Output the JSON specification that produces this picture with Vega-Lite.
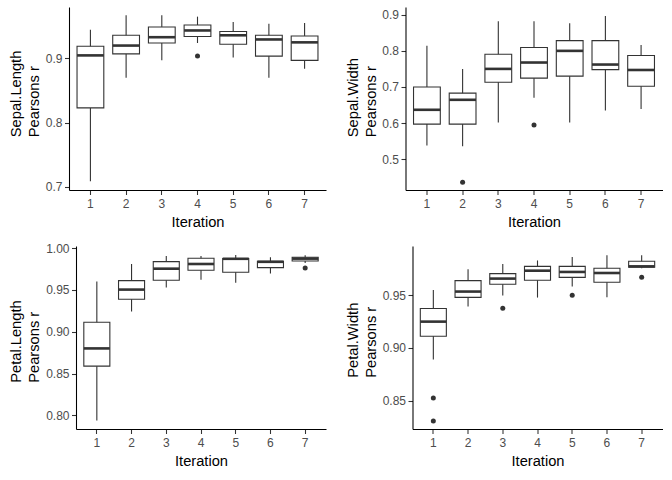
{
  "$schema": "https://vega.github.io/schema/vega-lite/v6.json",
  "padding": {"left": 8, "top": 7, "right": 5, "bottom": 5},
  "background": "white",
  "datasets": {
    "box": [
      {"panel": "SL", "it": 1, "lo": 0.709, "q1": 0.823, "med": 0.9047, "q3": 0.919, "hi": 0.9446},
      {"panel": "SL", "it": 2, "lo": 0.870, "q1": 0.907, "med": 0.920, "q3": 0.936, "hi": 0.967},
      {"panel": "SL", "it": 3, "lo": 0.897, "q1": 0.924, "med": 0.933, "q3": 0.949, "hi": 0.967},
      {"panel": "SL", "it": 4, "lo": 0.924, "q1": 0.934, "med": 0.9435, "q3": 0.952, "hi": 0.965},
      {"panel": "SL", "it": 5, "lo": 0.9016, "q1": 0.922, "med": 0.936, "q3": 0.942, "hi": 0.9565},
      {"panel": "SL", "it": 6, "lo": 0.870, "q1": 0.9036, "med": 0.9295, "q3": 0.936, "hi": 0.954},
      {"panel": "SL", "it": 7, "lo": 0.884, "q1": 0.897, "med": 0.925, "q3": 0.935, "hi": 0.955},
      {"panel": "SW", "it": 1, "lo": 0.5386, "q1": 0.5975, "med": 0.637, "q3": 0.700, "hi": 0.8136},
      {"panel": "SW", "it": 2, "lo": 0.536, "q1": 0.5975, "med": 0.6646, "q3": 0.683, "hi": 0.750},
      {"panel": "SW", "it": 3, "lo": 0.602, "q1": 0.7133, "med": 0.750, "q3": 0.7906, "hi": 0.8816},
      {"panel": "SW", "it": 4, "lo": 0.670, "q1": 0.7244, "med": 0.7676, "q3": 0.809, "hi": 0.8816},
      {"panel": "SW", "it": 5, "lo": 0.602, "q1": 0.730, "med": 0.7998, "q3": 0.828, "hi": 0.876},
      {"panel": "SW", "it": 6, "lo": 0.635, "q1": 0.748, "med": 0.762, "q3": 0.828, "hi": 0.896},
      {"panel": "SW", "it": 7, "lo": 0.639, "q1": 0.702, "med": 0.747, "q3": 0.787, "hi": 0.816},
      {"panel": "PL", "it": 1, "lo": 0.794, "q1": 0.8588, "med": 0.880, "q3": 0.9113, "hi": 0.960},
      {"panel": "PL", "it": 2, "lo": 0.924, "q1": 0.9388, "med": 0.9503, "q3": 0.961, "hi": 0.981},
      {"panel": "PL", "it": 3, "lo": 0.9527, "q1": 0.9614, "med": 0.9753, "q3": 0.9837, "hi": 0.9905},
      {"panel": "PL", "it": 4, "lo": 0.9622, "q1": 0.9734, "med": 0.9809, "q3": 0.9877, "hi": 0.9905},
      {"panel": "PL", "it": 5, "lo": 0.9586, "q1": 0.971, "med": 0.9871, "q3": 0.9873, "hi": 0.9917},
      {"panel": "PL", "it": 6, "lo": 0.9694, "q1": 0.9765, "med": 0.9835, "q3": 0.9841, "hi": 0.9889},
      {"panel": "PL", "it": 7, "lo": 0.982, "q1": 0.9845, "med": 0.9873, "q3": 0.9889, "hi": 0.9913},
      {"panel": "PW", "it": 1, "lo": 0.889, "q1": 0.9112, "med": 0.925, "q3": 0.9374, "hi": 0.955},
      {"panel": "PW", "it": 2, "lo": 0.9393, "q1": 0.948, "med": 0.9535, "q3": 0.9639, "hi": 0.9746},
      {"panel": "PW", "it": 3, "lo": 0.9497, "q1": 0.9604, "med": 0.9658, "q3": 0.9705, "hi": 0.9797},
      {"panel": "PW", "it": 4, "lo": 0.9478, "q1": 0.9642, "med": 0.9733, "q3": 0.9774, "hi": 0.983},
      {"panel": "PW", "it": 5, "lo": 0.9582, "q1": 0.967, "med": 0.9721, "q3": 0.9774, "hi": 0.9863},
      {"panel": "PW", "it": 6, "lo": 0.9481, "q1": 0.9623, "med": 0.9711, "q3": 0.9756, "hi": 0.9879},
      {"panel": "PW", "it": 7, "lo": 0.9755, "q1": 0.9765, "med": 0.9774, "q3": 0.9822, "hi": 0.9879}
    ],
    "out": [
      {"panel": "SL", "it": 4, "v": 0.9036},
      {"panel": "SW", "it": 2, "v": 0.4366},
      {"panel": "SW", "it": 4, "v": 0.5947},
      {"panel": "PL", "it": 7, "v": 0.9761},
      {"panel": "PW", "it": 1, "v": 0.8525},
      {"panel": "PW", "it": 1, "v": 0.8308},
      {"panel": "PW", "it": 3, "v": 0.9377},
      {"panel": "PW", "it": 5, "v": 0.95},
      {"panel": "PW", "it": 7, "v": 0.967}
    ]
  },
  "spacing": 13,
  "vconcat": [
    {
      "spacing": 18.5,
      "hconcat": [
        {
          "width": 257, "height": 183,
          "encoding": {
            "x": {"field": "it", "type": "ordinal", "title": "Iteration", "scale": {"paddingInner": 0.25, "paddingOuter": 0.225}}
          },
          "layer": [
            {"data": {"name": "box"}, "transform": [{"filter": "datum.panel == 'SL'"}], "mark": {"type": "rule", "color": "#333333", "strokeWidth": 1.1},
             "encoding": {"y": {"field": "lo", "type": "quantitative", "scale": {"domain": [0.6953, 0.980], "nice": false, "zero": false}, "axis": {"values": [0.7, 0.8, 0.9], "format": ".1f", "title": ["Sepal.Length", "Pearsons r"], "titleAlign": "left", "titleY": 129.7, "minExtent": 26.7, "maxExtent": 26.7}}, "y2": {"field": "hi"}}},
            {"data": {"name": "box"}, "transform": [{"filter": "datum.panel == 'SL'"}], "mark": {"type": "bar", "fill": "white", "stroke": "#333333", "strokeWidth": 1.1},
             "encoding": {"y": {"field": "q1", "type": "quantitative"}, "y2": {"field": "q3"}}},
            {"data": {"name": "box"}, "transform": [{"filter": "datum.panel == 'SL'"}], "mark": {"type": "tick", "color": "#333333", "thickness": 2.6, "opacity": 1},
             "encoding": {"y": {"field": "med", "type": "quantitative"}}},
            {"data": {"name": "out"}, "transform": [{"filter": "datum.panel == 'SL'"}], "mark": {"type": "point", "filled": true, "color": "#333333", "size": 25, "opacity": 1},
             "encoding": {"y": {"field": "v", "type": "quantitative"}}}
          ]
        },
        {
          "width": 257, "height": 183,
          "encoding": {
            "x": {"field": "it", "type": "ordinal", "title": "Iteration", "scale": {"paddingInner": 0.25, "paddingOuter": 0.225}}
          },
          "layer": [
            {"data": {"name": "box"}, "transform": [{"filter": "datum.panel == 'SW'"}], "mark": {"type": "rule", "color": "#333333", "strokeWidth": 1.1},
             "encoding": {"y": {"field": "lo", "type": "quantitative", "scale": {"domain": [0.4154, 0.921], "nice": false, "zero": false}, "axis": {"values": [0.5, 0.6, 0.7, 0.8, 0.9], "format": ".1f", "title": ["Sepal.Width", "Pearsons r"], "titleAlign": "left", "titleY": 129.7, "minExtent": 26.7, "maxExtent": 26.7}}, "y2": {"field": "hi"}}},
            {"data": {"name": "box"}, "transform": [{"filter": "datum.panel == 'SW'"}], "mark": {"type": "bar", "fill": "white", "stroke": "#333333", "strokeWidth": 1.1},
             "encoding": {"y": {"field": "q1", "type": "quantitative"}, "y2": {"field": "q3"}}},
            {"data": {"name": "box"}, "transform": [{"filter": "datum.panel == 'SW'"}], "mark": {"type": "tick", "color": "#333333", "thickness": 2.6, "opacity": 1},
             "encoding": {"y": {"field": "med", "type": "quantitative"}}},
            {"data": {"name": "out"}, "transform": [{"filter": "datum.panel == 'SW'"}], "mark": {"type": "point", "filled": true, "color": "#333333", "size": 25, "opacity": 1},
             "encoding": {"y": {"field": "v", "type": "quantitative"}}}
          ]
        }
      ]
    },
    {
      "spacing": 18.5,
      "hconcat": [
        {
          "width": 257, "height": 183,
          "encoding": {
            "x": {"field": "it", "type": "ordinal", "title": "Iteration", "scale": {"range": [7, 257], "paddingInner": 0.25, "paddingOuter": 0.225}}
          },
          "layer": [
            {"data": {"name": "box"}, "transform": [{"filter": "datum.panel == 'PL'"}], "mark": {"type": "rule", "color": "#333333", "strokeWidth": 1.1},
             "encoding": {"y": {"field": "lo", "type": "quantitative", "scale": {"domain": [0.7837, 1.0024], "nice": false, "zero": false}, "axis": {"values": [0.8, 0.85, 0.9, 0.95, 1.0], "format": ".2f", "title": ["Petal.Length", "Pearsons r"], "titleAlign": "left", "titleY": 136.3, "minExtent": 33.7, "maxExtent": 33.7, "offset": -7}}, "y2": {"field": "hi"}}},
            {"data": {"name": "box"}, "transform": [{"filter": "datum.panel == 'PL'"}], "mark": {"type": "bar", "fill": "white", "stroke": "#333333", "strokeWidth": 1.1},
             "encoding": {"y": {"field": "q1", "type": "quantitative"}, "y2": {"field": "q3"}}},
            {"data": {"name": "box"}, "transform": [{"filter": "datum.panel == 'PL'"}], "mark": {"type": "tick", "color": "#333333", "thickness": 2.6, "opacity": 1},
             "encoding": {"y": {"field": "med", "type": "quantitative"}}},
            {"data": {"name": "out"}, "transform": [{"filter": "datum.panel == 'PL'"}], "mark": {"type": "point", "filled": true, "color": "#333333", "size": 25, "opacity": 1},
             "encoding": {"y": {"field": "v", "type": "quantitative"}}}
          ]
        },
        {
          "width": 257, "height": 183,
          "encoding": {
            "x": {"field": "it", "type": "ordinal", "title": "Iteration", "scale": {"range": [7, 257], "paddingInner": 0.25, "paddingOuter": 0.225}}
          },
          "layer": [
            {"data": {"name": "box"}, "transform": [{"filter": "datum.panel == 'PW'"}], "mark": {"type": "rule", "color": "#333333", "strokeWidth": 1.1},
             "encoding": {"y": {"field": "lo", "type": "quantitative", "scale": {"domain": [0.8232, 0.9967], "nice": false, "zero": false}, "axis": {"values": [0.85, 0.9, 0.95], "format": ".2f", "title": ["Petal.Width", "Pearsons r"], "titleAlign": "left", "titleY": 131.3, "minExtent": 33.7, "maxExtent": 33.7, "offset": -7}}, "y2": {"field": "hi"}}},
            {"data": {"name": "box"}, "transform": [{"filter": "datum.panel == 'PW'"}], "mark": {"type": "bar", "fill": "white", "stroke": "#333333", "strokeWidth": 1.1},
             "encoding": {"y": {"field": "q1", "type": "quantitative"}, "y2": {"field": "q3"}}},
            {"data": {"name": "box"}, "transform": [{"filter": "datum.panel == 'PW'"}], "mark": {"type": "tick", "color": "#333333", "thickness": 2.6, "opacity": 1},
             "encoding": {"y": {"field": "med", "type": "quantitative"}}},
            {"data": {"name": "out"}, "transform": [{"filter": "datum.panel == 'PW'"}], "mark": {"type": "point", "filled": true, "color": "#333333", "size": 25, "opacity": 1},
             "encoding": {"y": {"field": "v", "type": "quantitative"}}}
          ]
        }
      ]
    }
  ],
  "config": {
    "view": {"stroke": null},
    "font": "Liberation Sans",
    "axis": {
      "grid": false,
      "domainColor": "black",
      "domainWidth": 1.07,
      "tickColor": "#333333",
      "tickSize": 4.5,
      "tickWidth": 1.07,
      "labelColor": "#4D4D4D",
      "labelFontSize": 12,
      "labelFont": "Liberation Sans",
      "titleFont": "Liberation Sans",
      "titleFontSize": 14.7,
      "titleFontWeight": "normal",
      "titleColor": "black"
    },
    "axisX": {"labelAngle": 0, "labelPadding": 3.5, "titlePadding": 5},
    "axisY": {"titleLineHeight": 18, "labelPadding": 2.5, "titlePadding": 0.4}
  }
}
